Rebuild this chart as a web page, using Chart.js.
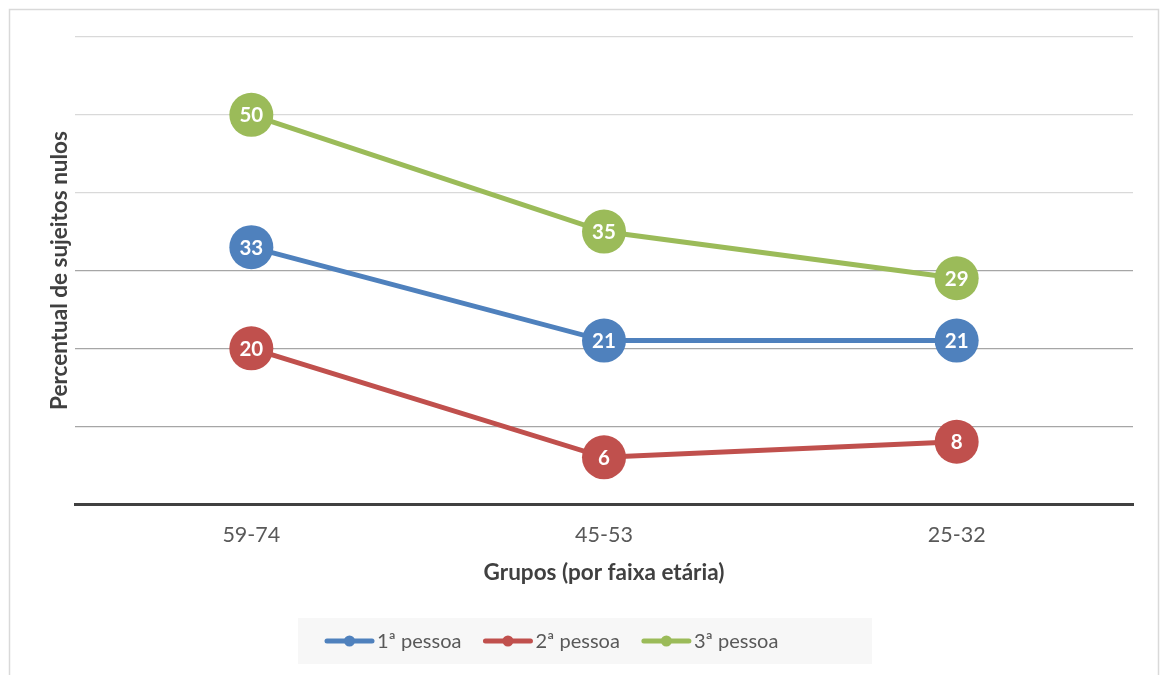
<!DOCTYPE html>
<html>
<head>
<meta charset="utf-8">
<script src="https://cdn.jsdelivr.net/npm/chart.js@4/dist/chart.umd.min.js"></script>
<style>
  html, body { margin: 0; padding: 0; background: #ffffff; }
  #wrap { width: 1168px; height: 675px; position: relative; }
</style>
</head>
<body>
<div id="wrap"><canvas id="c" width="1168" height="675"></canvas></div>
<script>
const categories = ['59-74', '45-53', '25-32'];
const seriesNames = ['1ª pessoa', '2ª pessoa', '3ª pessoa'];
const pessoa1 = [33, 21, 21];
const pessoa2 = [20, 6, 8];
const pessoa3 = [50, 35, 29];
const seriesColors = ['#4f81bd', '#c0504d', '#9bbb59'];
const xTitle = 'Grupos (por faixa etária)';
const yTitle = 'Percentual de sujeitos nulos';

const FONT = 'Lato, "Open Sans", sans-serif';

const frame = {
  id: 'frame',
  beforeDraw(chart) {
    const ctx = chart.ctx;
    ctx.save();
    ctx.fillStyle = '#ffffff';
    ctx.fillRect(0, 0, chart.width, chart.height);
    ctx.strokeStyle = '#d9d9d9';
    ctx.lineWidth = 1.5;
    ctx.strokeRect(9.5, 9.5, chart.width - 19, chart.height + 20);
    ctx.restore();
  }
};

const valueLabels = {
  id: 'valueLabels',
  afterDatasetsDraw(chart) {
    const ctx = chart.ctx;
    ctx.save();
    ctx.font = 'bold 20.5px ' + FONT;
    ctx.fillStyle = '#ffffff';
    ctx.textAlign = 'center';
    ctx.textBaseline = 'middle';
    chart.data.datasets.forEach((ds, i) => {
      const meta = chart.getDatasetMeta(i);
      meta.data.forEach((pt, j) => {
        ctx.fillText(String(ds.data[j]), pt.x, pt.y + 1);
      });
    });
    ctx.restore();
  }
};

const customLegend = {
  id: 'customLegend',
  afterDraw(chart) {
    const ctx = chart.ctx;
    ctx.save();
    ctx.font = '20px ' + FONT;
    const lineLen = 49, gapText = 3, gapItem = 22;
    const cx = chart.width / 2 + 1;
    const cy = 641;
    const boxW = 574, boxH = 46;
    const boxLeft = cx - boxW / 2;
    ctx.fillStyle = '#f7f7f7';
    ctx.fillRect(boxLeft, cy - boxH / 2, boxW, boxH);
    let x = boxLeft + 27;
    chart.data.datasets.forEach(ds => {
      const w = lineLen + gapText + ctx.measureText(ds.label).width;
      ctx.strokeStyle = ds.borderColor;
      ctx.lineWidth = 5;
      ctx.lineCap = 'round';
      ctx.beginPath();
      ctx.moveTo(x + 2, cy);
      ctx.lineTo(x + lineLen - 2, cy);
      ctx.stroke();
      ctx.fillStyle = ds.borderColor;
      ctx.beginPath();
      ctx.arc(x + lineLen / 2, cy, 5.5, 0, Math.PI * 2);
      ctx.fill();
      ctx.fillStyle = '#595959';
      ctx.textAlign = 'left';
      ctx.textBaseline = 'middle';
      ctx.fillText(ds.label, x + lineLen + gapText, cy + 1);
      x += w + gapItem;
    });
    ctx.restore();
  }
};

const dataSeries = [pessoa1, pessoa2, pessoa3];

new Chart(document.getElementById('c'), {
  type: 'line',
  data: {
    labels: categories,
    datasets: dataSeries.map((d, i) => ({
      label: seriesNames[i],
      data: d,
      borderColor: seriesColors[i],
      backgroundColor: seriesColors[i],
      borderWidth: 5,
      pointRadius: 22,
      pointHoverRadius: 22,
      pointBorderWidth: 0,
      pointBackgroundColor: seriesColors[i],
      tension: 0,
      fill: false
    }))
  },
  options: {
    responsive: false,
    animation: false,
    devicePixelRatio: 1,
    layout: { padding: { top: 37, left: 0, right: 35, bottom: 85 } },
    plugins: {
      legend: { display: false },
      tooltip: { enabled: false }
    },
    scales: {
      x: {
        offset: true,
        grid: { display: false, drawTicks: false },
        border: { display: true, color: '#404040', width: 3 },
        ticks: { color: '#595959', font: { family: FONT, size: 21.5 }, padding: 18 },
        title: { display: true, text: xTitle, color: '#404040', font: { family: FONT, size: 22.5, weight: 'bold' }, padding: { top: 0, bottom: 3.5 } },
        afterFit(scale) { scale.height = 86; }
      },
      y: {
        min: 0, max: 60,
        ticks: { stepSize: 10, display: false },
        grid: {
          drawTicks: false,
          lineWidth: 1.3,
          color: ctx => (ctx.tick && ctx.tick.value >= 40) ? '#d9d9d9' : '#a6a6a6'
        },
        border: { display: false },
        title: { display: true, text: yTitle, color: '#404040', font: { family: FONT, size: 22.5, weight: 'bold' }, padding: { top: 46.5, bottom: 0 } },
        afterFit(scale) { scale.width = 75; }
      }
    }
  },
  plugins: [frame, valueLabels, customLegend]
});
</script>
</body>
</html>
